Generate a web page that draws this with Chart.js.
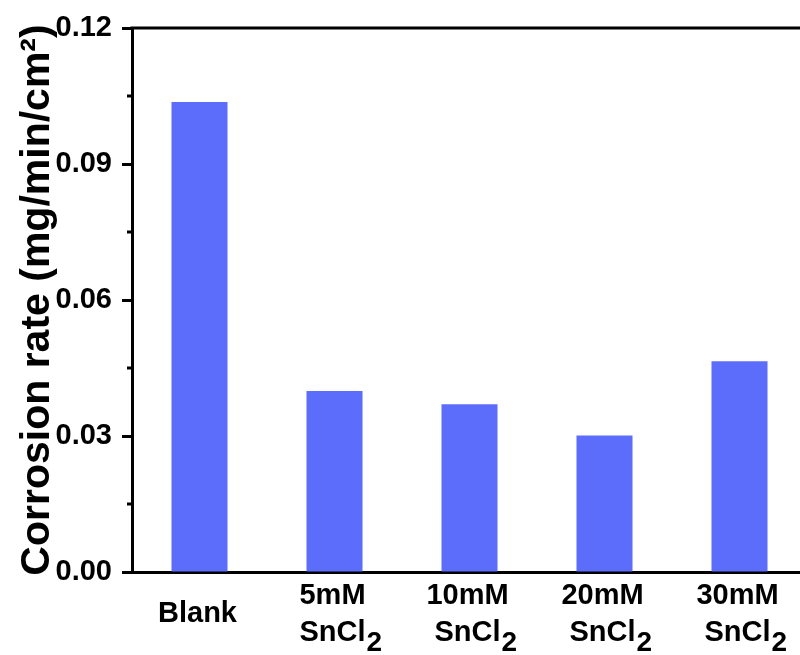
<!DOCTYPE html>
<html>
<head>
<meta charset="utf-8">
<style>
  html, body { margin: 0; padding: 0; background: #ffffff; overflow: hidden; }
  #wrap { width: 810px; height: 655px; position: relative; }
</style>
<script src="https://cdn.jsdelivr.net/npm/chart.js@4.4.1/dist/chart.umd.min.js"></script>
</head>
<body>
<div id="wrap"><canvas id="chart"></canvas></div>
<script>
// Corrosion rate of the samples; "_" marks a subscript in a label line
const categories = ['Blank', '5mM SnCl_2', '10mM SnCl_2', '20mM SnCl_2', '30mM SnCl_2'];
const corrosionRate = [0.1037, 0.0399, 0.0370, 0.0301, 0.0465];
const yTicks = [0, 0.03, 0.06, 0.09, 0.12];
const yTitle = 'Corrosion rate (mg/min/cm\u00B2)';

const FONT = '"Liberation Sans", Arial, Helvetica, sans-serif';
const BAR_COLOR = '#5c6dfc';

// Frame line along the top of the plot area
const topFrame = {
  id: 'topFrame',
  afterDraw(chart) {
    const { ctx, chartArea } = chart;
    ctx.save();
    ctx.strokeStyle = '#000';
    ctx.lineWidth = 3;
    ctx.beginPath();
    ctx.moveTo(chartArea.left - 1.5, chartArea.top);
    ctx.lineTo(chartArea.right, chartArea.top);
    ctx.stroke();
    ctx.restore();
  }
};

// Short minor ticks halfway between the major y ticks
const minorTicks = {
  id: 'minorTicks',
  afterDraw(chart) {
    const { ctx, scales: { y } } = chart;
    const ticks = y.ticks;
    ctx.save();
    ctx.strokeStyle = '#000';
    ctx.lineWidth = 3;
    for (let i = 0; i < ticks.length - 1; i++) {
      const v = (ticks[i].value + ticks[i + 1].value) / 2;
      const py = y.getPixelForValue(v);
      ctx.beginPath();
      ctx.moveTo(y.right - 5, py);
      ctx.lineTo(y.right, py);
      ctx.stroke();
    }
    ctx.restore();
  }
};

// Two-line category labels with a full-height subscript
const categoryLabels = {
  id: 'categoryLabels',
  afterDraw(chart) {
    const { ctx, scales: { x }, chartArea } = chart;
    ctx.save();
    ctx.fillStyle = '#000';
    ctx.textAlign = 'left';
    ctx.textBaseline = 'alphabetic';
    const mid = chartArea.bottom + 50;
    const gap = 37;
    categories.forEach((label, i) => {
      const cx = x.getPixelForValue(i);
      const lines = label.split(' ');
      lines.forEach((line, j) => {
        const base = mid + (j - (lines.length - 1) / 2) * gap;
        const [main, sub] = line.split('_');
        ctx.font = 'bold 29px ' + FONT;
        const w = ctx.measureText(main).width;
        const left = cx - w / 2 - 2;
        ctx.fillText(main, left, base);
        if (sub) {
          ctx.font = 'bold 28px ' + FONT;
          ctx.fillText(sub, left + w + 1, base + 10);
        }
      });
    });
    ctx.restore();
  }
};

new Chart(document.getElementById('chart'), {
  type: 'bar',
  data: {
    labels: categories,
    datasets: [{
      data: corrosionRate,
      backgroundColor: BAR_COLOR,
      borderWidth: 0,
      barPercentage: 0.415,
      categoryPercentage: 1
    }]
  },
  options: {
    responsive: true,
    maintainAspectRatio: false,
    animation: false,
    layout: { padding: { top: 28, right: 3, left: 0, bottom: 0 } },
    plugins: { legend: { display: false }, tooltip: { enabled: false } },
    scales: {
      x: {
        offset: true,
        grid: { display: false },
        border: { display: true, color: '#000', width: 3 },
        ticks: { display: false },
        afterFit(scale) { scale.height = 83; }
      },
      y: {
        min: 0,
        max: 0.12,
        afterBuildTicks(scale) { scale.ticks = yTicks.map(v => ({ value: v })); },
        grid: {
          display: true,
          drawOnChartArea: false,
          drawTicks: true,
          tickLength: 10,
          tickWidth: 3,
          tickColor: '#000'
        },
        border: { display: true, color: '#000', width: 3 },
        ticks: {
          padding: 10,
          color: '#000',
          font: { family: FONT, size: 29, weight: 'bold' },
          callback: v => Number(v).toFixed(2)
        },
        title: {
          display: true,
          text: yTitle,
          color: '#000',
          font: { family: FONT, size: 41, weight: 'bold' },
          padding: { top: 13, bottom: 0 }
        },
        afterFit(scale) { scale.width = 132; }
      }
    }
  },
  plugins: [topFrame, minorTicks, categoryLabels]
});
</script>
</body>
</html>
